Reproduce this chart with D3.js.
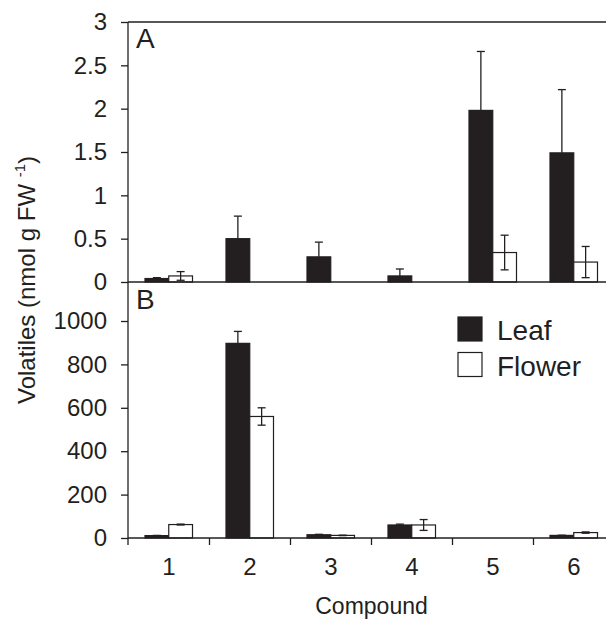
<!DOCTYPE html>
<html>
<head>
<meta charset="utf-8">
<script src="https://cdn.jsdelivr.net/npm/d3@7"></script>
<style>
  body { margin: 0; background: #fff; }
  svg { font-family: "Liberation Sans", Arial, Helvetica, sans-serif; }
</style>
</head>
<body>
<div id="chart"></div>
<script>
// values
const compounds = ["1", "2", "3", "4", "5", "6"];
const seriesNames = ["Leaf", "Flower"];

const leafA = [0.04, 0.50, 0.29, 0.07, 1.98, 1.49];
const leafAErr = [0.01, 0.26, 0.17, 0.08, 0.68, 0.73];
const flowerA = [0.07, 0, 0, 0, 0.34, 0.23];
const flowerAErr = [0.05, 0, 0, 0, 0.20, 0.18];

const leafB = [11, 897, 15, 60, 0, 12];
const leafBErr = [1, 55, 2, 4, 0, 1];
const flowerB = [62, 560, 12, 60, 0, 25];
const flowerBErr = [2, 40, 1, 25, 0, 3];

const ticksA = [0, 0.5, 1, 1.5, 2, 2.5, 3];
const ticksB = [0, 200, 400, 600, 800, 1000];

const width = 606, height = 619;
const ink = "#231f20";
const font = "'Liberation Sans', Arial, sans-serif";

const svg = d3.select("#chart").append("svg")
    .attr("width", width)
    .attr("height", height);

// shared x: one band per compound
const x = d3.scaleBand()
    .domain(compounds)
    .range([128.5, 614.5])
    .padding(0);

const xSub = d3.scaleBand()
    .domain(seriesNames)
    .range([16.5, 64]);

const axisX = 128;

// panel A
const yA = d3.scaleLinear().domain([0, 3]).range([282, 22]);
// panel B
const yB = d3.scaleLinear().domain([0, 1000]).range([538, 321]);

function drawPanel(y, leaf, leafErr, flower, flowerErr, ticks, fmt) {
    const g = svg.append("g");

    const rows = compounds.map((c, i) => ({
        c: c,
        vals: [
            {s: "Leaf", v: leaf[i], e: leafErr[i]},
            {s: "Flower", v: flower[i], e: flowerErr[i]}
        ]
    }));

    const grp = g.selectAll(".grp")
        .data(rows)
        .join("g")
        .attr("class", "grp")
        .attr("transform", d => `translate(${x(d.c)},0)`);

    grp.selectAll("rect")
        .data(d => d.vals.filter(v => v.v > 0))
        .join("rect")
        .attr("x", d => xSub(d.s))
        .attr("y", d => y(d.v))
        .attr("width", xSub.bandwidth())
        .attr("height", d => y(0) - y(d.v))
        .attr("fill", d => d.s === "Leaf" ? ink : "#fff")
        .attr("stroke", ink)
        .attr("stroke-width", 1.2);

    // error bars: leaf shows upward half only
    const eb = grp.selectAll(".err")
        .data(d => d.vals.filter(v => v.e > 0))
        .join("g")
        .attr("class", "err")
        .attr("transform", d => `translate(${xSub(d.s) + xSub.bandwidth() / 2},0)`);

    eb.append("line")
        .attr("y1", d => y(d.v + d.e))
        .attr("y2", d => d.s === "Leaf" ? y(d.v) : y(Math.max(0, d.v - d.e)))
        .attr("stroke", ink)
        .attr("stroke-width", 1.3);

    eb.append("line")
        .attr("x1", -4).attr("x2", 4)
        .attr("y1", d => y(d.v + d.e))
        .attr("y2", d => y(d.v + d.e))
        .attr("stroke", ink)
        .attr("stroke-width", 1.3);

    eb.filter(d => d.s === "Flower" && d.v - d.e > 0)
        .append("line")
        .attr("x1", -4).attr("x2", 4)
        .attr("y1", d => y(d.v - d.e))
        .attr("y2", d => y(d.v - d.e))
        .attr("stroke", ink)
        .attr("stroke-width", 1.3);

    // y axis
    const ax = g.append("g")
        .attr("transform", `translate(${axisX},0)`)
        .call(d3.axisLeft(y).tickValues(ticks).tickFormat(fmt).tickSize(7).tickPadding(14));
    ax.select(".domain").remove();
    ax.selectAll("line").attr("stroke", ink).attr("stroke-width", 1.3);
    ax.selectAll("text")
        .attr("fill", ink)
        .attr("font-size", 24)
        .attr("font-family", font);

    // baseline
    g.append("line")
        .attr("x1", axisX).attr("x2", width)
        .attr("y1", y(0)).attr("y2", y(0))
        .attr("stroke", ink).attr("stroke-width", 1.3);
}

drawPanel(yA, leafA, leafAErr, flowerA, flowerAErr, ticksA, d => d3.format("")(d));
drawPanel(yB, leafB, leafBErr, flowerB, flowerBErr, ticksB, d => d);

// frame: top line of A and vertical axis through both panels
svg.append("line")
    .attr("x1", axisX).attr("x2", width)
    .attr("y1", yA(3)).attr("y2", yA(3))
    .attr("stroke", ink).attr("stroke-width", 1.3);

svg.append("line")
    .attr("x1", axisX).attr("x2", axisX)
    .attr("y1", yA(3)).attr("y2", yB(0) + 7)
    .attr("stroke", ink).attr("stroke-width", 1.3);

// x ticks at band boundaries
svg.selectAll(".xtick")
    .data(compounds.slice(1))
    .join("line")
    .attr("class", "xtick")
    .attr("x1", d => x(d)).attr("x2", d => x(d))
    .attr("y1", yB(0)).attr("y2", yB(0) + 7)
    .attr("stroke", ink).attr("stroke-width", 1.3);

const xAxisG = svg.append("g")
    .attr("transform", `translate(0,${yB(0)})`)
    .call(d3.axisBottom(x).tickSize(0).tickPadding(20));
xAxisG.select(".domain").remove();
xAxisG.selectAll("text")
    .attr("fill", ink)
    .attr("font-size", 24)
    .attr("font-family", font);

// titles
svg.append("text")
    .attr("x", x("3") + x.bandwidth())
    .attr("y", 614)
    .attr("text-anchor", "middle")
    .attr("font-size", 23)
    .attr("fill", ink)
    .text("Compound");

const yTitle = svg.append("text")
    .attr("transform", "translate(35,280) rotate(-90)")
    .attr("text-anchor", "middle")
    .attr("font-size", 24)
    .attr("fill", ink);
yTitle.append("tspan").text("Volatiles (nmol g FW ");
yTitle.append("tspan").attr("font-size", 15).attr("dy", -10).text("-1");
yTitle.append("tspan").attr("dy", 10).text(")");

// panel letters
svg.append("text").attr("x", 136).attr("y", 48)
    .attr("font-size", 28).attr("fill", ink).text("A");
svg.append("text").attr("x", 136).attr("y", 309)
    .attr("font-size", 28).attr("fill", ink).text("B");

// legend
const legend = svg.append("g").attr("transform", "translate(458,317)");
const li = legend.selectAll("g")
    .data(seriesNames)
    .join("g")
    .attr("transform", (d, i) => `translate(0,${i * 35.5})`);
li.append("rect")
    .attr("width", 24).attr("height", 24)
    .attr("fill", d => d === "Leaf" ? ink : "#fff")
    .attr("stroke", ink).attr("stroke-width", 1.2);
li.append("text")
    .attr("x", 39).attr("y", 23)
    .attr("font-size", 28)
    .attr("fill", ink)
    .text(d => d);
</script>
</body>
</html>
